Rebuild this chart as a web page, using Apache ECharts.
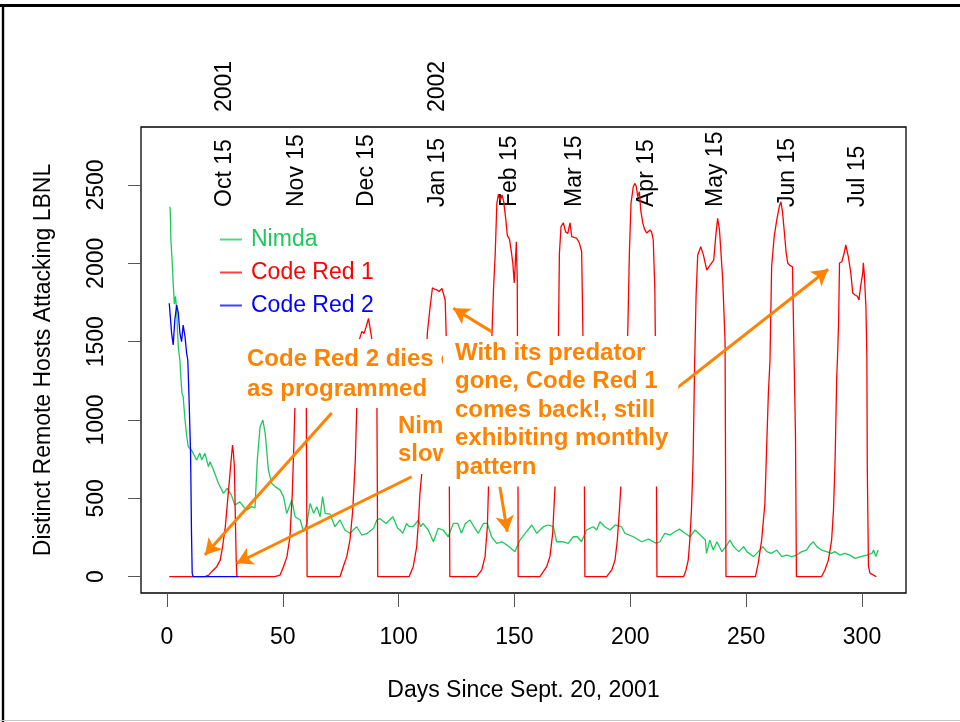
<!DOCTYPE html>
<html><head><meta charset="utf-8">
<script src="https://cdn.jsdelivr.net/npm/echarts@6/dist/echarts.min.js"></script>
<style>html,body{margin:0;padding:0;background:#fff}#c{width:960px;height:722px}</style>
</head><body><div id="c"></div>
<script>
const xTicks = [0, 50, 100, 150, 200, 250, 300];
const yTicks = [0, 500, 1000, 1500, 2000, 2500];
const monthDays = [25, 56, 86, 117, 148, 176, 207, 237, 268, 298];
const monthLabels = ['Oct 15', 'Nov 15', 'Dec 15', 'Jan 15', 'Feb 15', 'Mar 15', 'Apr 15', 'May 15', 'Jun 15', 'Jul 15'];
const yearDays = [25, 117];
const yearLabels = ['2001', '2002'];
const seriesNames = ['Nimda', 'Code Red 1', 'Code Red 2'];

const nimda = [[1.3,2361],[1.5,2300],[1.7,2150],[2.3,2000],[2.7,1870],[3.2,1740],[3.7,1790],[4.2,1700],[4.6,1550],[5.0,1450],[5.6,1380],[6.1,1250],[6.5,1170],[7.0,1149],[7.8,1000],[8.5,900],[9.2,830],[10.6,808],[11.3,815],[12.8,745],[14.2,789],[15,745],[16.4,787],[17.9,702],[18.6,734],[20.1,681],[22.2,596],[24.4,532],[26,564],[27.8,521],[29.3,457],[31.5,478],[33,447],[34.4,425],[36.6,447],[38,440],[39,745],[40.2,957],[41.4,1000],[42.4,915],[43.8,681],[45.2,596],[46.7,575],[48.8,554],[50.3,511],[51.7,404],[53.9,490],[55.3,383],[57.5,362],[59,287],[60.4,340],[61.8,468],[63.3,404],[64.7,447],[66.1,383],[67.2,511],[68.3,404],[70.4,400],[72.5,319],[74.7,362],[76.8,298],[79,277],[81.9,319],[84.1,266],[86.5,277],[89.2,309],[90.6,362],[92,370],[94.6,340],[97.5,383],[99.6,309],[100.6,298],[101.8,277],[103.4,340],[104.5,319],[106.2,319],[108.6,362],[109.5,319],[110.5,340],[112.8,298],[115,223],[117.1,309],[119.2,298],[121.4,255],[123.6,340],[125.5,340],[127.1,277],[128.8,340],[130.8,362],[132.5,319],[134.4,277],[136.6,340],[138.3,340],[140.1,255],[142.3,213],[144.6,223],[146.9,200],[150.2,160],[152.4,234],[154.6,277],[157.5,330],[159.6,277],[162.5,319],[164.6,330],[166.8,319],[168.2,223],[171,223],[173.2,213],[175.4,255],[177.2,255],[178.9,223],[181.1,298],[184,319],[185.5,298],[186.9,351],[189,319],[191.3,298],[193.5,330],[196.2,319],[197.7,277],[201.3,255],[204.9,223],[207.8,240],[211.3,213],[212.8,223],[214.9,277],[217.1,266],[219.2,287],[221.2,304],[223.6,277],[225.8,255],[228,298],[230.2,266],[232.4,234],[232.9,149],[234.3,234],[235.8,170],[237.4,223],[239.5,160],[241.7,202],[243,234],[244.6,192],[246.8,160],[248.9,192],[250.3,160],[253.2,128],[255.3,160],[257.2,192],[258.9,160],[260.9,149],[263.2,170],[265.4,128],[267.5,138],[269.7,128],[271.8,138],[274,160],[276.1,170],[277.5,202],[279,223],[280.5,192],[282.5,170],[284.7,160],[286.8,149],[288.3,160],[290.4,138],[292.6,149],[294.8,138],[297,117],[299.4,128],[302.1,138],[304.3,149],[305,170],[306,128],[307,170]];

const codeRed1 = [[1,0],[16.4,0],[18,10],[19.3,32],[21.5,64],[23,106],[24,191],[25.2,319],[26.2,489],[27.1,638],[27.7,745],[28.3,840],[28.7,790],[29.1,700],[29.6,319],[29.9,106],[30.2,0],
[46.6,0],[48.8,10],[50.3,64],[51.8,128],[53.1,255],[54.1,532],[54.8,851],[55.2,1064],[55.6,1250],[56.5,1320],[57.5,1290],[58.5,1350],[59.5,1300],[60.1,1250],[60.3,600],[60.5,0],
[74.7,0],[76.1,64],[77.6,128],[79,234],[80.2,425],[81.3,745],[81.9,1064],[82.6,1383],[83.2,1521],[84.1,1564],[85.1,1553],[86,1596],[87,1649],[87.7,1585],[88.4,1521],[89.5,1480],[90.5,1450],[90.8,600],[91,0],
[104.5,0],[106.3,64],[107.8,191],[108.6,362],[109.2,532],[110,660],[110.8,1000],[111.6,1300],[112.4,1555],[113.6,1723],[114.6,1844],[115.5,1835],[116.5,1830],[117.5,1820],[118.7,1840],[119.4,1830],[120.1,1766],[120.5,1555],[121.9,560],[122.1,0],
[133.7,0],[135.9,43],[137.3,128],[138.3,319],[138.8,574],[139.6,1100],[140.3,1555],[141,1849],[141.7,2064],[142.4,2383],[143.1,2442],[143.8,2400],[144.6,2436],[145.3,2400],[146.3,2276],[146.9,2180],[147.9,2150],[148.6,2080],[149.3,2000],[149.9,1874],[150.3,1979],[150.8,2138],[151.2,1900],[151.5,800],[151.6,0],
[161,0],[163.9,64],[165.3,128],[166.5,277],[167.5,574],[168.3,1100],[169,1555],[169.4,2064],[170.1,2234],[171.1,2259],[172.1,2200],[173,2191],[174,2259],[174.7,2170],[175.7,2165],[176.8,2161],[178,2130],[179,2074],[179.6,1500],[180.2,600],[180.4,0],
[189.8,0],[192,43],[193.4,106],[194.4,234],[195.3,425],[195.9,574],[197.2,1100],[198.9,1555],[199.6,2064],[200.3,2383],[201.3,2489],[202,2510],[202.6,2490],[203.2,2425],[203.9,2457],[204.5,2340],[205.4,2257],[206.1,2220],[207.1,2193],[207.8,2190],[208.5,2213],[209.2,2200],[209.9,2149],[210.6,1830],[211.2,900],[211.5,0],
[223,0],[224,40],[225,106],[225.7,234],[226.4,425],[227.1,745],[227.8,1383],[228.4,1800],[229.1,2051],[230.4,2106],[231.6,2051],[233,1957],[234.5,1990],[236,2021],[237,2191],[237.7,2287],[238.5,2213],[239.3,2225],[239.9,1893],[240.9,1500],[241.3,0],
[254,0],[255.2,85],[256.7,234],[258.1,468],[258.9,851],[259.6,1170],[260.3,1383],[261,1978],[262.1,2170],[263.2,2276],[264.3,2361],[265,2393],[265.7,2330],[266.4,2213],[267.3,2064],[268,2000],[269,1985],[270,1978],[270.8,1970],[271.3,900],[271.7,0],
[282.5,0],[284,43],[285.5,106],[286.9,234],[287.7,425],[288.4,745],[289.1,1276],[289.4,1383],[289.9,1617],[290.3,2002],[291.3,2010],[292.3,2064],[293,2117],[294.1,2043],[295.2,1936],[296,1810],[297,1798],[298,1790],[298.7,1766],[299.4,1851],[300.3,1936],[300.6,2004],[301,1930],[301.7,1723],[302.1,1406],[302.3,681],[302.8,64],[303.5,21],[305,10],[306.2,0]];

const codeRed2 = [[1.0,1745],[1.5,1650],[2.0,1555],[2.7,1479],[3.4,1638],[4.2,1734],[4.9,1682],[5.6,1555],[6.3,1500],[7.0,1606],[7.8,1532],[8.5,1426],[9.0,1383],[9.3,1250],[9.6,1106],[10.2,787],[10.6,277],[10.9,21],[11.3,0],[30.8,0]];

const arrows = [
  [[71.1, 1045], [16.4, 138]],
  [[105.6, 638], [30.1, 86]],
  [[140.1, 1564], [123.6, 1713]],
  [[143.7, 574], [146.9, 287]],
  [[216.4, 1160], [285.4, 1962]]
];

const GREEN = '#1ec95c', RED = '#ff0000', BLUE = '#0000ff', ORANGE = '#ff8200';
const FONT = 'Liberation Sans';
const colors = [GREEN, RED, BLUE];
const XMIN = -11.2, XMAX = 319, YMIN = -104, YMAX = 2870;

const chart = echarts.init(document.getElementById('c'), null, {renderer: 'canvas'});
const lineSeries = (name, data, color) => ({
  name, type: 'line', data, showSymbol: false, symbol: 'none', animation: false,
  lineStyle: {color, width: 1.3}, itemStyle: {color}, z: 2, emphasis: {disabled: true}
});
const topAxis = (vals, labels, offset) => ({
  type: 'value', position: 'top', min: XMIN, max: XMAX, offset,
  axisLine: {show: false, onZero: false}, axisTick: {show: false}, splitLine: {show: false},
  axisLabel: {rotate: -90, margin: 0, fontSize: 23, fontFamily: FONT, color: '#000',
    customValues: vals, formatter: v => labels[vals.indexOf(v)] }
});

const option = {
  backgroundColor: '#fff',
  animation: false,
  textStyle: {fontFamily: FONT},
  grid: {left: 141, right: 54, top: 127, bottom: 129, show: true, borderColor: '#000', borderWidth: 1.3, backgroundColor: 'transparent'},
  legend: {
    orient: 'vertical', left: 215, top: 223, icon: 'rect', itemWidth: 22, itemHeight: 2, itemGap: 10,
    itemStyle: {opacity: 0.75},
    textStyle: {fontSize: 23, fontFamily: FONT, lineHeight: 23, padding: [0, 0, 0, 4]},
    selectedMode: false,
    data: seriesNames.map((n, i) => ({name: n, textStyle: {color: colors[i]}}))
  },
  xAxis: [
    {type: 'value', min: XMIN, max: XMAX, position: 'bottom',
      name: 'Days Since Sept. 20, 2001', nameLocation: 'middle', nameGap: 86,
      nameTextStyle: {fontSize: 23, fontFamily: FONT, color: '#000'},
      axisLine: {show: false, onZero: false},
      axisTick: {show: true, length: 14, lineStyle: {color: '#555', width: 1}, customValues: xTicks},
      axisLabel: {fontSize: 23, fontFamily: FONT, color: '#000', margin: 33, customValues: xTicks, formatter: v => String(v)},
      splitLine: {show: false}},
    topAxis(monthDays, monthLabels, -80),
    topAxis(yearDays, yearLabels, 15)
  ],
  yAxis: {
    type: 'value', min: YMIN, max: YMAX,
    name: 'Distinct Remote Hosts Attacking LBNL', nameLocation: 'middle', nameGap: 86,
    nameTextStyle: {fontSize: 23, fontFamily: FONT, color: '#000'},
    axisLine: {show: false, onZero: false},
    axisTick: {show: true, length: 13, lineStyle: {color: '#555', width: 1}, customValues: yTicks},
    axisLabel: {rotate: 90, fontSize: 23, fontFamily: FONT, color: '#000', margin: 33, customValues: yTicks, formatter: v => String(v)},
    splitLine: {show: false}
  },
  series: [
    lineSeries('Nimda', nimda, GREEN),
    lineSeries('Code Red 1', codeRed1, RED),
    lineSeries('Code Red 2', codeRed2, BLUE),
    {type: 'line', name: 'arrows', data: [], z: 30, silent: true,
      markLine: {silent: true, animation: false, symbol: ['none', 'arrow'], symbolSize: [14, 16],
        label: {show: false}, emphasis: {disabled: true},
        lineStyle: {color: ORANGE, width: 3, type: 'solid'},
        data: arrows.map(a => [{coord: a[0]}, {coord: a[1]}])}}
  ],
  graphic: [
    {type: 'line', z: 1, shape: {x1: 0, y1: 5.5, x2: 960, y2: 5.5}, style: {stroke: '#000', lineWidth: 3}},
    {type: 'line', z: 1, shape: {x1: 3, y1: 4, x2: 3, y2: 722}, style: {stroke: '#000', lineWidth: 2.4}},
    {type: 'line', z: 1, shape: {x1: 0, y1: 720.5, x2: 960, y2: 720.5}, style: {stroke: '#c8c8c8', lineWidth: 1}},
    {type: 'text', z: 10, x: 239, y: 339, style: {text: 'Code Red 2 dies out\nas programmed',
      font: 'bold 24px ' + FONT, fill: ORANGE, backgroundColor: '#fff', padding: [5, 8, 3, 8], lineHeight: 30.5}},
    {type: 'text', z: 11, x: 392, y: 408, style: {text: 'Nimda\nslowly dying',
      font: 'bold 24px ' + FONT, fill: ORANGE, backgroundColor: '#fff', padding: [4, 6, 6, 6], lineHeight: 28}},
    {type: 'text', z: 12, x: 443, y: 336, style: {text: 'With its predator\ngone, Code Red 1\ncomes back!, still\nexhibiting monthly\npattern',
      font: 'bold 24px ' + FONT, fill: ORANGE, backgroundColor: '#fff', padding: [3, 10, 5, 12], lineHeight: 28.5}}
  ]
};
chart.setOption(option);
</script></body></html>
